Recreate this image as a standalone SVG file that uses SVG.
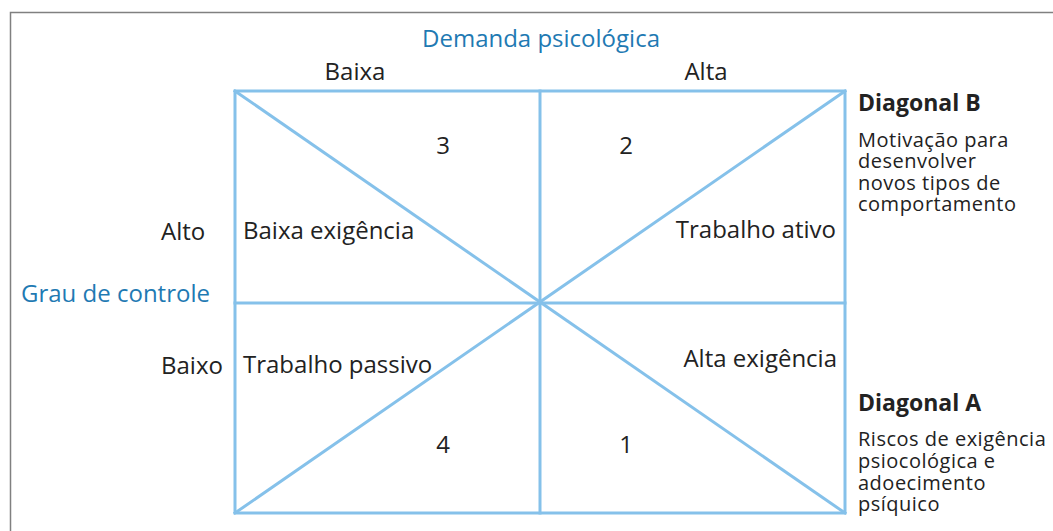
<svg xmlns="http://www.w3.org/2000/svg" width="1053" height="531" viewBox="0 0 1053 531">
<style>
.g{stroke:#85c1ea;stroke-width:3;fill:none;stroke-linecap:square}
.t{font-family:"Open Sans","Noto Sans","Liberation Sans",sans-serif;font-size:24px;fill:#222}
.b{font-family:"Open Sans","Noto Sans","Liberation Sans",sans-serif;font-size:24px;fill:#1f7ab3}
.h{font-family:"Open Sans","Noto Sans","Liberation Sans",sans-serif;font-size:23px;font-weight:bold;fill:#222}
.s{font-family:"Open Sans","Noto Sans","Liberation Sans",sans-serif;font-size:20px;letter-spacing:0.5px;fill:#222}
</style>
<rect width="1053" height="531" fill="#fff"/>
<path d="M10.5 531 V12.5 H1053" fill="none" stroke="#808080" stroke-width="1.5"/>
<g id="connectors">
<rect class="g" x="235" y="91" width="610" height="422"/>
<line class="g" x1="540" y1="91" x2="540" y2="513"/>
<line class="g" x1="235" y1="303" x2="845" y2="303"/>
<line class="g" x1="235" y1="91" x2="845" y2="513"/>
<line class="g" x1="235" y1="513" x2="845" y2="91"/>
</g>
<g id="axis-x">
<text class="b" x="541" y="47" text-anchor="middle">Demanda psicológica</text>
<text class="t" x="355" y="80" text-anchor="middle">Baixa</text>
<text class="t" x="706" y="80" text-anchor="middle">Alta</text>
</g>
<g id="axis-y">
<text class="b" x="21" y="302">Grau de controle</text>
<text class="t" x="161" y="240">Alto</text>
<text class="t" x="161" y="374">Baixo</text>
</g>
<g id="q3">
<text class="t" x="443" y="154" text-anchor="middle">3</text>
<text class="t" x="243" y="239">Baixa exigência</text>
</g>
<g id="q2">
<text class="t" x="626" y="154" text-anchor="middle">2</text>
<text class="t" x="836" y="238" text-anchor="end">Trabalho ativo</text>
</g>
<g id="q4">
<text class="t" x="243" y="373">Trabalho passivo</text>
<text class="t" x="443" y="453" text-anchor="middle">4</text>
</g>
<g id="q1">
<text class="t" x="837" y="367" text-anchor="end">Alta exigência</text>
<text class="t" x="626" y="453" text-anchor="middle">1</text>
</g>
<g id="diagonal-b">
<text class="h" x="858" y="111">Diagonal B</text>
<text class="s" x="858" y="147"><tspan x="858" y="147">Motivação para</tspan><tspan x="858" y="168">desenvolver</tspan><tspan x="858" y="190">novos tipos de</tspan><tspan x="858" y="211">comportamento</tspan></text>
</g>
<g id="diagonal-a">
<text class="h" x="858" y="411">Diagonal A</text>
<text class="s" x="858" y="446"><tspan x="858" y="446">Riscos de exigência</tspan><tspan x="858" y="468">psiocológica e</tspan><tspan x="858" y="490">adoecimento</tspan><tspan x="858" y="511">psíquico</tspan></text>
</g>
</svg>
